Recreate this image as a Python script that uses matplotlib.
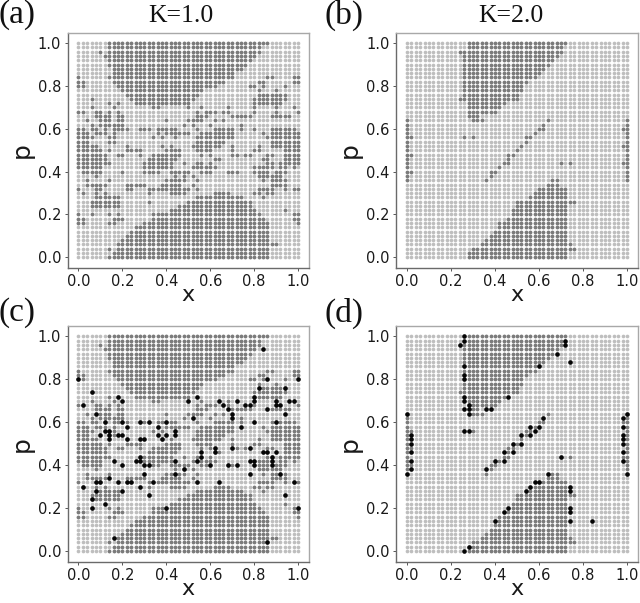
import matplotlib
matplotlib.use("Agg")
import matplotlib.pyplot as plt

# Grid of initial conditions
GRID_SIZE = 51

# Dark (regular) cells, read row by row from p=1.00 down to p=0.00.
# Tokens are column numbers (x = column * 0.02) or inclusive column ranges.
DARK_K1 = [
    "7-43", "7-41", "5 7-41", "6 7-40", "7-39", "7-38", "8-37", "8-35",
    "0 7-35 43 44 49 50", "0 1 8-33 41 42 49 50", "0 1 9-31 39 40 42 47",
    "10-28 41 45", "11-27 41-47", "3 12-26 40-47", "7 9 13-25 40-46",
    "3 8 17 18 25 28 34 40 45 49", "0 1 4 5 7 9 27 29 30 31 33 34 40 45 50",
    "4-6 7 9 10 27-29 35-39 44-48", "2 5-7 9 10 20 25-28 31 33",
    "3 5-10 24 26 30 37", "0 1 3 4 6 8-11 14-16 18-22 27 31-35 37 40 44-49",
    "0-2 4-6 8 18 20-25 28-35 42 44-50", "0-3 7 8 17 19 22 27-35 43-50",
    "0-2 7 8 27-33 44-50", "0-4 11 19 21 26 27-32 35 41 44-50",
    "0-5 7 11-14 20-23 27-30 35 40 41 47-50", "0-6 9 10 14 17-23 28 30 35 36 38 39 43 44 47-50",
    "0-6 16-22 31 32 42 43 47-50", "0-7 15-21 24 27 28 30 43 44 46-50",
    "0-5 15-21 26-31 40-44 46 47 49", "1-5 10 15-18 21-25 28-30 34-36 40-43 45-47",
    "4 22 24 26 41-46", "2 7 20-24 27 42 44-47", "2-6 11-15 19-23 26 44 45 46 47",
    "0 4 5 11 12 16-18 19-25 27 41-44 47 49 50", "1 4 6 16 21-24 31-34 40 41 43 44",
    "4-9 27-37 42", "3-9 16 25-39", "3-9 23-39", "21-40 47", "0 3 7 9 17-41 49 50",
    "0 1 8-10 17-42 49 50", "0 1 7 8 15-43 50", "13-43", "12-43", "11-43", "10-43",
    "9-45", "7 9-43", "8-43", "7-43",
]

DARK_K2 = [
    "14-36", "14-35", "12-35", "13-34", "13-33", "13-32", "13-31", "13-30",
    "13-29", "13-27", "13-26", "13-26", "13-25", "12-25", "14-22", "14-21",
    "14-20", "14-16", "0 15-17 32 50", "0 31 50", "0 30 31 49 50", "0 29 50",
    "0 1 13 15 27 28 50", "0 27 50", "0 26 49 50", "0 25 50", "0 1 23 24 50",
    "0 23 50", "0 22 23 35 37 49 50", "0 21 50", "0 1 19 20 50", "0 19 50",
    "0 18 33 34 50", "32-34", "30-36", "29-36", "28-36", "25-38", "25-36",
    "24-36", "24-36", "23-36", "21-36", "21-36", "20-36", "19-36", "18-36",
    "17-37", "15-38", "14-36", "14-36",
]

# Black points of the lower panels
BLACK_C_X = [0.00, 0.02, 0.06, 0.08, 0.02, 0.08, 0.10, 0.08, 0.06, 0.06, 0.12, 0.14, 0.12, 0.12, 0.10, 0.14, 0.14, 0.14,
             0.18, 0.20, 0.20, 0.22, 0.18, 0.20, 0.22, 0.16, 0.20, 0.18, 0.22, 0.24, 0.20, 0.28, 0.32, 0.28, 0.30, 0.28,
             0.26, 0.28, 0.30, 0.32, 0.30, 0.28, 0.32, 0.34, 0.36, 0.36, 0.38, 0.40, 0.40, 0.44, 0.44, 0.44, 0.44, 0.48,
             0.40, 0.50, 0.54, 0.52, 0.54, 0.56, 0.56, 0.54, 0.60, 0.62, 0.62, 0.64, 0.64, 0.66, 0.68, 0.70, 0.70, 0.72,
             0.70, 0.68, 0.72, 0.74, 0.76, 0.78, 0.80, 0.80, 0.82, 0.86, 0.84, 0.86, 0.80, 0.90, 0.90, 0.92, 0.94, 0.94,
             0.96, 0.98, 1.00, 0.90, 0.78, 0.78, 0.80, 0.80, 0.78, 0.84, 0.86, 0.88, 0.88, 0.88, 0.90, 0.92, 0.98, 0.94,
             1.00, 0.16, 0.86]
BLACK_C_P = [0.80, 0.68, 0.74, 0.64, 0.30, 0.32, 0.32, 0.28, 0.24, 0.20, 0.22, 0.34, 0.60, 0.56, 0.54, 0.56, 0.54, 0.52,
             0.72, 0.70, 0.60, 0.58, 0.54, 0.54, 0.52, 0.42, 0.40, 0.32, 0.32, 0.32, 0.28, 0.60, 0.60, 0.52, 0.52, 0.44,
             0.42, 0.42, 0.40, 0.40, 0.36, 0.30, 0.26, 0.32, 0.58, 0.54, 0.52, 0.60, 0.54, 0.56, 0.54, 0.42, 0.36, 0.38,
             0.20, 0.70, 0.72, 0.62, 0.42, 0.46, 0.44, 0.32, 0.40, 0.48, 0.46, 0.32, 0.70, 0.68, 0.66, 0.64, 0.62, 0.70,
             0.48, 0.40, 0.40, 0.58, 0.68, 0.68, 0.72, 0.70, 0.76, 0.80, 0.94, 0.66, 0.60, 0.70, 0.68, 0.68, 0.64, 0.76,
             0.70, 0.70, 0.80, 0.60, 0.48, 0.42, 0.42, 0.40, 0.36, 0.46, 0.46, 0.44, 0.42, 0.40, 0.46, 0.36, 0.32, 0.26,
             0.20, 0.06, 0.04]

BLACK_D_X = [0.00, 0.00, 0.02, 0.02, 0.02, 0.02, 0.02, 0.02, 0.26, 0.26, 0.24, 0.26, 0.26, 0.26, 0.26, 0.26, 0.26, 0.28,
             0.28, 0.28, 0.36, 0.38, 0.46, 0.60, 0.68, 0.72, 0.72, 0.74, 0.26, 0.28, 0.36, 0.40, 0.44, 0.44, 0.48, 0.48,
             0.52, 0.52, 0.56, 0.56, 0.58, 0.60, 0.62, 0.70, 0.64, 0.58, 0.60, 0.56, 0.54, 0.74, 0.74, 0.74, 0.74, 0.74,
             0.46, 0.44, 0.40, 0.84, 0.26, 0.28, 1.00, 0.98, 0.98, 0.98, 0.98, 0.98, 0.98, 0.98, 1.00]
BLACK_D_P = [0.64, 0.36, 0.54, 0.52, 0.50, 0.46, 0.42, 0.38, 1.00, 0.98, 0.96, 0.86, 0.82, 0.80, 0.72, 0.70, 0.66, 0.68,
             0.66, 0.64, 0.66, 0.66, 0.72, 0.86, 0.92, 0.98, 0.96, 0.88, 0.56, 0.56, 0.38, 0.42, 0.42, 0.46, 0.46, 0.50,
             0.50, 0.54, 0.58, 0.54, 0.56, 0.58, 0.62, 0.44, 0.36, 0.32, 0.32, 0.30, 0.28, 0.30, 0.28, 0.20, 0.18, 0.14,
             0.20, 0.18, 0.14, 0.14, 0.00, 0.02, 0.64, 0.62, 0.58, 0.54, 0.52, 0.50, 0.46, 0.42, 0.36]

TICK_VALUES = [0.0, 0.2, 0.4, 0.6, 0.8, 1.0]
TITLES = ["K=1.0", "K=2.0"]
PANEL_LETTERS = ["(a)", "(b)", "(c)", "(d)"]

W, H = 640, 603


def parse_rows(rows):
    """Expand the per-row column tokens into (x, p) lists."""
    xs, ps = [], []
    for i, row in enumerate(rows):
        for tok in row.split():
            if "-" in tok:
                a, b = tok.split("-")
                cols = range(int(a), int(b) + 1)
            else:
                cols = [int(tok)]
            for c in cols:
                xs.append(c / (GRID_SIZE - 1))
                ps.append(1 - i / (GRID_SIZE - 1))
    return xs, ps


def make_axes(fig, left, top, right, bottom):
    return fig.add_axes([left / W, 1 - bottom / H, (right - left) / W, (bottom - top) / H])


fig = plt.figure(figsize=(W / 100, H / 100), dpi=100)

all_cols = [k / (GRID_SIZE - 1) for k in range(GRID_SIZE)]
grid_x = [c for _ in all_cols for c in all_cols]
grid_p = [r for r in all_cols for _ in all_cols]

panels = [
    ((67.5, 32.5, 309, 268), DARK_K1, None, None),
    ((396, 32.5, 638, 268), DARK_K2, None, None),
    ((67.5, 325.7, 309, 561.7), DARK_K1, BLACK_C_X, BLACK_C_P),
    ((396, 325.7, 638, 561.7), DARK_K2, BLACK_D_X, BLACK_D_P),
]

for (box, dark, bx, bp) in panels:
    ax = make_axes(fig, *box)
    light_sc = ax.scatter(grid_x, grid_p, s=7, c="#bebebe", linewidths=0, zorder=1)
    light_sc.set_snap(False)
    dx, dp = parse_rows(dark)
    dark_sc = ax.scatter(dx, dp, s=7, c="#7b7b7b", linewidths=0, zorder=2)
    dark_sc.set_snap(False)
    if bx is not None:
        black_sc = ax.scatter(bx, bp, s=11, c="#050505", linewidths=0, zorder=3)
        black_sc.set_snap(False)
    ax.set_xlim(-0.05, 1.05)
    ax.set_ylim(-0.05, 1.05)
    ax.set_xticks(TICK_VALUES)
    ax.set_yticks(TICK_VALUES)
    ax.tick_params(labelsize=10.5, length=2, width=0.7, color="#555555", labelcolor="#1a1a1a", pad=2.5)
    ax.set_xlabel("x", fontsize=16, labelpad=-3, color="#1a1a1a")
    ax.set_ylabel("p", fontsize=18, labelpad=3, color="#1a1a1a")
    for name, spine in ax.spines.items():
        spine.set_linewidth(1.0)
        spine.set_color("#a8a8a8" if name in ("top", "right") else "#6a6a6a")

serif = "Liberation Serif"
for txt, cx in zip(TITLES, (181, 511)):
    fig.text(cx / W, 1 - 16 / H, txt, ha="center", va="center", family=serif, fontsize=18.5, color="#111111")
for txt, (lx, cy) in zip(PANEL_LETTERS, ((-1, 15), (324, 15), (-1, 313), (324, 313))):
    fig.text(lx / W, 1 - cy / H, txt, ha="left", va="center", family=serif, fontsize=24, color="#111111")

fig.savefig("out.png", dpi=100)
